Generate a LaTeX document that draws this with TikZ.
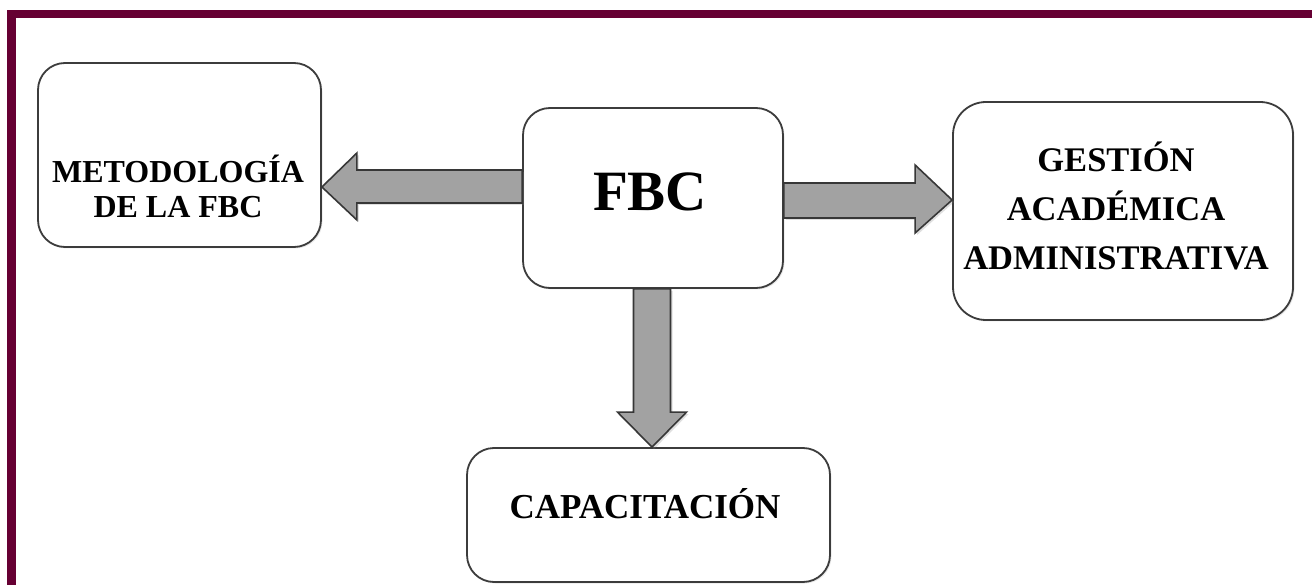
\documentclass[tikz,border=0pt]{standalone}
\usepackage{fontspec}
\setmainfont{Liberation Serif}
\usetikzlibrary{calc,shadows}

\definecolor{framered}{RGB}{102,0,51}
\definecolor{boxline}{RGB}{60,60,60}
\definecolor{arrowfill}{RGB}{162,162,162}
\definecolor{arrowline}{RGB}{55,55,55}

\tikzset{
  roundbox/.style={draw=boxline, line width=1.8pt, rounded corners=27pt, fill=white,
    drop shadow={shadow xshift=1.5pt, shadow yshift=-1.5pt, opacity=0.18}},
  boxtext/.style={align=center, inner sep=0pt, text=black, font=\bfseries},
  bigarrow/.style={draw=arrowline, line width=1.6pt, fill=arrowfill, line join=miter,
    drop shadow={shadow xshift=2pt, shadow yshift=-2pt, opacity=0.25}},
}

\begin{document}
\begin{tikzpicture}[x=1pt,y=-1pt]
  \useasboundingbox (0,0) rectangle (1312,585);
  \fill[white] (0,0) rectangle (1312,585);

  % maroon frame (top and left)
  \fill[framered] (7,10) rectangle (1312,18);
  \fill[framered] (7,10) rectangle (16,585);

  % boxes
  \node[roundbox, minimum width=283pt, minimum height=184pt] (meto) at (179.5,155) {};
  \node[roundbox, minimum width=260pt, minimum height=180pt] (fbc) at (653,198) {};
  \node[roundbox, minimum width=340pt, minimum height=218pt, rounded corners=33pt] (gest) at (1123,211) {};
  \node[roundbox, minimum width=363pt, minimum height=134pt] (cap) at (648.5,515) {};

  % labels
  \node[boxtext, font=\bfseries\fontsize{32}{35}\selectfont] (metoT) at (178,186)
    {METODOLOGÍA\\DE LA FBC};
  \node[boxtext, font=\bfseries\fontsize{57}{60}\selectfont] (fbcT) at (650,192) {FBC};
  \node[boxtext, font=\bfseries\fontsize{34.5}{49}\selectfont] (gestT) at (1116,206)
    {GESTIÓN\\ACADÉMICA\\ADMINISTRATIVA};
  \node[boxtext, font=\bfseries\fontsize{35}{38}\selectfont] (capT) at (645,504) {CAPACITACIÓN};

  % left arrow: FBC -> methodology
  \coordinate (lTip) at (meto.east |- 0,187);
  \coordinate (lA) at ($(lTip)+(35,-17)$);
  \coordinate (lB) at ($(lTip)+(35,16)$);
  \draw[bigarrow] (lTip) -- ($(lTip)+(35,-34)$) -- (lA) -- (lA -| fbc.west)
    -- (lB -| fbc.west) -- (lB) -- ($(lTip)+(35,33)$) -- cycle;

  % right arrow: FBC -> management
  \coordinate (rTip) at (gest.west |- 0,200);
  \coordinate (rA) at ($(rTip)+(-37,-17)$);
  \coordinate (rB) at ($(rTip)+(-37,18)$);
  \draw[bigarrow] (rTip) -- ($(rTip)+(-37,-35)$) -- (rA) -- (rA -| fbc.east)
    -- (rB -| fbc.east) -- (rB) -- ($(rTip)+(-37,33)$) -- cycle;

  % down arrow: FBC -> training
  \coordinate (dTip) at (cap.north -| 652,0);
  \coordinate (dA) at ($(dTip)+(-18.5,-35)$);
  \coordinate (dB) at ($(dTip)+(18.5,-35)$);
  \draw[bigarrow] (dTip) -- ($(dTip)+(-34.5,-35)$) -- (dA) -- (dA |- fbc.south)
    -- (dB |- fbc.south) -- (dB) -- ($(dTip)+(34.5,-35)$) -- cycle;
\end{tikzpicture}
\end{document}
